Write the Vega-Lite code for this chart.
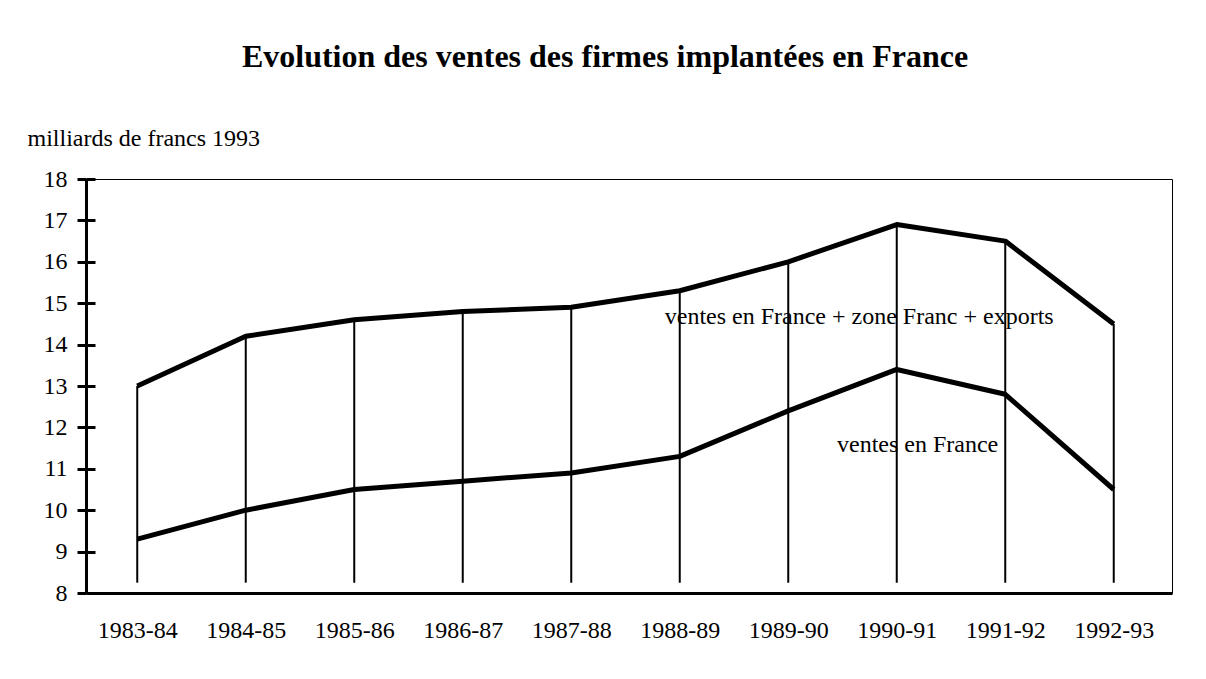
{
  "$schema": "https://vega.github.io/schema/vega-lite/v6.json",
  "width": 1086,
  "height": 414,
  "autosize": "none",
  "padding": {"left": 86, "top": 179, "right": 34, "bottom": 86},
  "background": "white",
  "title": {
    "text": "Evolution des ventes des firmes implantées en France",
    "font": "Liberation Serif",
    "fontSize": 32,
    "fontWeight": "bold",
    "color": "black",
    "anchor": "middle",
    "frame": "group",
    "baseline": "alphabetic",
    "dx": -24,
    "offset": 27
  },
  "config": {
    "view": {"stroke": "black", "strokeWidth": 1},
    "font": "Liberation Serif"
  },
  "datasets": {
    "ventes": [
      {"periode": "1983-84", "serie": "total", "valeur": 13.0},
      {"periode": "1984-85", "serie": "total", "valeur": 14.2},
      {"periode": "1985-86", "serie": "total", "valeur": 14.6},
      {"periode": "1986-87", "serie": "total", "valeur": 14.8},
      {"periode": "1987-88", "serie": "total", "valeur": 14.9},
      {"periode": "1988-89", "serie": "total", "valeur": 15.3},
      {"periode": "1989-90", "serie": "total", "valeur": 16.0},
      {"periode": "1990-91", "serie": "total", "valeur": 16.9},
      {"periode": "1991-92", "serie": "total", "valeur": 16.5},
      {"periode": "1992-93", "serie": "total", "valeur": 14.5},
      {"periode": "1983-84", "serie": "france", "valeur": 9.3},
      {"periode": "1984-85", "serie": "france", "valeur": 10.0},
      {"periode": "1985-86", "serie": "france", "valeur": 10.5},
      {"periode": "1986-87", "serie": "france", "valeur": 10.7},
      {"periode": "1987-88", "serie": "france", "valeur": 10.9},
      {"periode": "1988-89", "serie": "france", "valeur": 11.3},
      {"periode": "1989-90", "serie": "france", "valeur": 12.4},
      {"periode": "1990-91", "serie": "france", "valeur": 13.4},
      {"periode": "1991-92", "serie": "france", "valeur": 12.8},
      {"periode": "1992-93", "serie": "france", "valeur": 10.5}
    ],
    "etiquettes": [
      {"periode": "1988-89", "valeur": 14.5, "texte": "ventes en France + zone Franc + exports", "pos": "gauche"},
      {"periode": "1991-92", "valeur": 11.4, "texte": "ventes en France", "pos": "droite"}
    ]
  },
  "resolve": {"axis": {"y": "independent"}},
  "layer": [
    {
      "data": {"name": "ventes"},
      "mark": {"type": "line", "color": "black", "strokeWidth": 5, "strokeJoin": "round"},
      "encoding": {
        "x": {
          "field": "periode",
          "type": "ordinal",
          "sort": null,
          "scale": {"type": "point", "padding": 0.5046, "align": 0.468},
          "axis": {
            "orient": "bottom",
            "title": null,
            "ticks": false,
            "domainColor": "black",
            "domainWidth": 3,
            "labelAngle": 0,
            "labelFont": "Liberation Serif",
            "labelFontSize": 24,
            "labelColor": "black",
            "labelPadding": 25,
            "grid": false
          }
        },
        "y": {
          "field": "valeur",
          "type": "quantitative",
          "scale": {"domain": [8, 18], "nice": false, "zero": false},
          "axis": {
            "orient": "left",
            "values": [8, 9, 10, 11, 12, 13, 14, 15, 16, 17, 18],
            "grid": false,
            "tickSize": 9,
            "tickWidth": 3,
            "tickColor": "black",
            "domainColor": "black",
            "domainWidth": 3,
            "labelFont": "Liberation Serif",
            "labelFontSize": 24,
            "labelColor": "black",
            "labelPadding": 10,
            "title": "milliards de francs 1993",
            "titleFont": "Liberation Serif",
            "titleFontSize": 24,
            "titleFontWeight": "normal",
            "titleColor": "black",
            "titleAngle": 0,
            "titleAlign": "left",
            "titleBaseline": "alphabetic",
            "titleX": -59,
            "titleY": -34
          }
        },
        "detail": {"field": "serie"}
      }
    },
    {
      "data": {"name": "ventes"},
      "transform": [{"filter": "datum.serie === 'total'"}],
      "mark": {"type": "rule", "color": "black", "strokeWidth": 2},
      "encoding": {
        "x": {"field": "periode", "type": "ordinal", "sort": null},
        "y": {
          "field": "valeur",
          "type": "quantitative",
          "axis": {
            "orient": "left",
            "values": [9, 10, 11, 12, 13, 14, 15, 16, 17, 18],
            "grid": false,
            "tickSize": -9,
            "tickWidth": 3,
            "tickColor": "black",
            "domain": false,
            "labels": false,
            "title": null
          }
        },
        "y2": {"datum": 8.25}
      }
    },
    {
      "data": {"name": "etiquettes"},
      "transform": [{"filter": "datum.pos === 'gauche'"}],
      "mark": {"type": "text", "font": "Liberation Serif", "fontSize": 24, "color": "black", "align": "left", "baseline": "alphabetic", "dx": -15},
      "encoding": {
        "x": {"field": "periode", "type": "ordinal", "sort": null},
        "y": {"field": "valeur", "type": "quantitative", "axis": null},
        "text": {"field": "texte"}
      }
    },
    {
      "data": {"name": "etiquettes"},
      "transform": [{"filter": "datum.pos === 'droite'"}],
      "mark": {"type": "text", "font": "Liberation Serif", "fontSize": 24, "color": "black", "align": "right", "baseline": "alphabetic", "dx": -7},
      "encoding": {
        "x": {"field": "periode", "type": "ordinal", "sort": null},
        "y": {"field": "valeur", "type": "quantitative", "axis": null},
        "text": {"field": "texte"}
      }
    }
  ]
}
